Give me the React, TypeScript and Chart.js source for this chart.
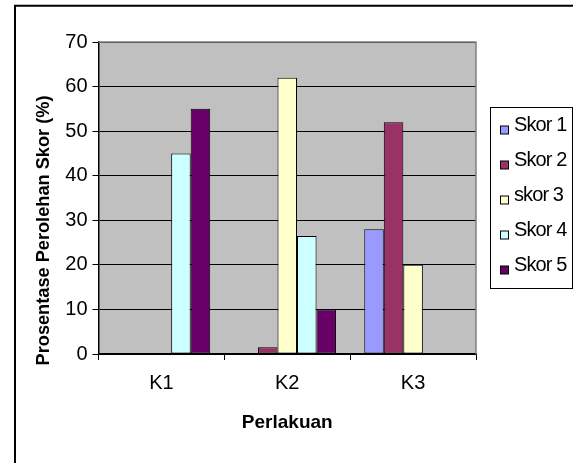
import React, { useEffect, useRef } from "react";
import { Chart, registerables } from "chart.js";

Chart.register(...registerables);

const categories = ["K1", "K2", "K3"];
const seriesNames = ["Skor 1", "Skor 2", "skor 3", "Skor 4", "Skor 5"];
const skor1 = [0, 0, 28];
const skor2 = [0, 1.5, 52];
const skor3 = [0, 62, 20];
const skor4 = [45, 26.5, 0];
const skor5 = [55, 10, 0];
const seriesColors = ["#9999FF", "#993366", "#FFFFCC", "#CCFFFF", "#660066"];
const yTicks = [0, 10, 20, 30, 40, 50, 60, 70];
const yTitle = "Prosentase Perolehan Skor (%)";
const xTitle = "Perlakuan";

const FONT = "'Liberation Sans', Arial, sans-serif";

const framePlugin = {
  id: "frame",
  beforeDraw(chart: any) {
    const { ctx, chartArea } = chart;
    ctx.save();
    ctx.strokeStyle = "#000";
    ctx.lineWidth = 2;
    ctx.beginPath();
    ctx.moveTo(15, chart.height + 5);
    ctx.lineTo(15, 5.7);
    ctx.lineTo(chart.width + 5, 5.7);
    ctx.stroke();
    ctx.fillStyle = "#C0C0C0";
    ctx.fillRect(
      chartArea.left,
      chartArea.top,
      chartArea.right - chartArea.left,
      chartArea.bottom - chartArea.top
    );
    ctx.restore();
  },
  afterDatasetsDraw(chart: any) {
    const { ctx, chartArea } = chart;
    ctx.save();
    ctx.strokeStyle = "#808080";
    ctx.lineWidth = 1.5;
    ctx.beginPath();
    ctx.moveTo(chartArea.left, chartArea.top);
    ctx.lineTo(chartArea.right, chartArea.top);
    ctx.lineTo(chartArea.right, chartArea.bottom);
    ctx.stroke();
    ctx.restore();
  },
  afterDraw(chart: any) {
    const { ctx, chartArea } = chart;
    const yScale = chart.scales.y;
    ctx.save();
    ctx.translate(yScale.left + 44, (chartArea.top + chartArea.bottom) / 2 + 32.5);
    ctx.rotate(-Math.PI / 2);
    ctx.font = `bold 18.2px ${FONT}`;
    ctx.fillStyle = "#000";
    ctx.textAlign = "center";
    ctx.textBaseline = "middle";
    ctx.fillText(yTitle, 0, 0);
    ctx.restore();

    const left = chartArea.right + 14.5;
    const width = 82;
    const height = 181;
    const top = (chartArea.top + chartArea.bottom) / 2 - height / 2;
    ctx.save();
    ctx.fillStyle = "#fff";
    ctx.fillRect(left, top, width, height);
    ctx.strokeStyle = "#000";
    ctx.lineWidth = 1;
    ctx.strokeRect(left, top, width, height);
    ctx.font = `20px ${FONT}`;
    (ctx as any).letterSpacing = "-0.9px";
    ctx.textBaseline = "alphabetic";
    ctx.textAlign = "left";
    seriesNames.forEach((name, i) => {
      const b = top + 23 + i * 35;
      ctx.fillStyle = seriesColors[i];
      ctx.fillRect(left + 10, b - 4.5, 8, 8);
      ctx.strokeRect(left + 10, b - 4.5, 8, 8);
      ctx.fillStyle = "#000";
      ctx.fillText(name, left + 23.5, b);
    });
    ctx.restore();
  },
};

export default function App() {
  const ref = useRef<HTMLCanvasElement>(null);
  useEffect(() => {
    const canvas = ref.current!;
    const seriesData = [skor1, skor2, skor3, skor4, skor5];
    const datasets = seriesData.map((d, i) => ({
      label: seriesNames[i],
      data: d,
      backgroundColor: seriesColors[i],
      borderColor: "#000",
      borderWidth: 1,
      borderSkipped: false,
      categoryPercentage: 0.776,
      barPercentage: 1,
    }));
    const chart = new Chart(canvas, {
      type: "bar",
      data: { labels: categories, datasets },
      options: {
        animation: false,
        responsive: true,
        maintainAspectRatio: false,
        layout: { padding: { left: 0, top: 42, right: 97, bottom: 0 } },
        plugins: {
          legend: { display: false },
          tooltip: { enabled: false },
        },
        scales: {
          x: {
            grid: {
              display: true,
              drawOnChartArea: false,
              drawTicks: true,
              tickLength: 6,
              color: "#000",
              lineWidth: 1,
              offset: true,
            },
            border: { display: true, color: "#000", width: 1.5 },
            ticks: {
              font: { family: FONT, size: 20 },
              color: "#000",
              padding: 11,
            },
            title: {
              display: true,
              text: xTitle,
              color: "#000",
              font: { family: FONT, size: 19, weight: "bold" },
              padding: { top: 0, bottom: 29 },
            },
            afterFit: (s: any) => {
              s.height = 109;
            },
          },
          y: {
            min: 0,
            max: 70,
            afterBuildTicks: (s: any) => {
              s.ticks = yTicks.map((v) => ({ value: v }));
            },
            grid: {
              color: "#000",
              lineWidth: 1,
              tickLength: 6,
              drawTicks: true,
            },
            border: { display: true, color: "#000", width: 1.5 },
            ticks: {
              font: { family: FONT, size: 20 },
              color: "#000",
              padding: 5,
            },
            afterFit: (s: any) => {
              s.width = 98.5;
            },
          },
        },
      } as any,
      plugins: [framePlugin],
    });
    return () => chart.destroy();
  }, []);
  return (
    <div
      style={{
        position: "absolute",
        left: 0,
        top: 0,
        width: 573,
        height: 463,
        background: "#fff",
      }}
    >
      <canvas ref={ref} />
    </div>
  );
}
